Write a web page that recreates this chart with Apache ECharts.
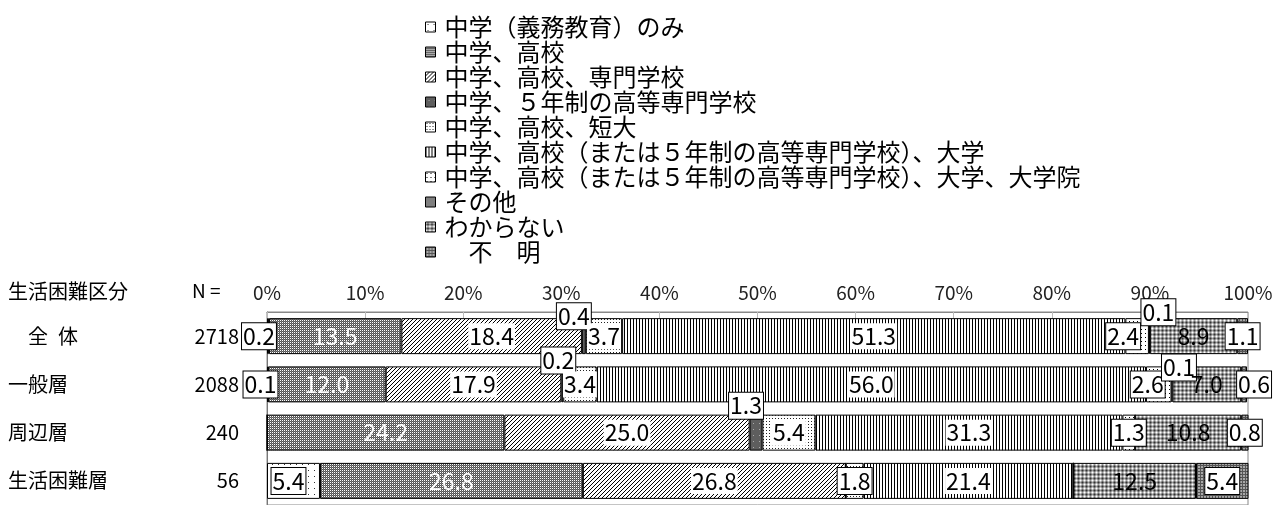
<!DOCTYPE html>
<html>
<head>
<meta charset="utf-8">
<script src="https://cdn.jsdelivr.net/npm/echarts@6/dist/echarts.min.js"></script>
<style>
html,body{margin:0;padding:0;background:#fff;}
#chart{width:1285px;height:505px;}
</style>
</head>
<body>
<div id="chart"></div>
<script>
// ---- data ----
const categories = ['\u3000全\u2002体', '一般層', '周辺層', '生活困難層'];
const nValues = ['2718', '2088', '240', '56'];
const xTicks = [0, 10, 20, 30, 40, 50, 60, 70, 80, 90, 100];
const seriesNames = [
  '中学（義務教育）のみ',
  '中学、高校',
  '中学、高校、専門学校',
  '中学、５年制の高等専門学校',
  '中学、高校、短大',
  '中学、高校（または５年制の高等専門学校）、大学',
  '中学、高校（または５年制の高等専門学校）、大学、大学院',
  'その他',
  'わからない',
  '\u3000不\u3000明'
];
const gimuOnly   = [0.2, 0.1, 0.0, 5.4];
const koko       = [13.5, 12.0, 24.2, 26.8];
const senmon     = [18.4, 17.9, 25.0, 26.8];
const kosen      = [0.4, 0.2, 1.3, 0.0];
const tandai     = [3.7, 3.4, 5.4, 1.8];
const daigaku    = [51.3, 56.0, 31.3, 21.4];
const daigakuin  = [2.4, 2.6, 1.3, 0.0];
const sonota     = [0.1, 0.1, 0.0, 0.0];
const wakaranai  = [8.9, 7.0, 10.8, 12.5];
const fumei      = [1.1, 0.6, 0.8, 5.4];
const seriesValues = [gimuOnly, koko, senmon, kosen, tandai, daigaku, daigakuin, sonota, wakaranai, fumei];

// ---- patterns (style) ----
function tile(w, h, bg, pixels) {
  const c = document.createElement('canvas');
  c.width = w; c.height = h;
  const g = c.getContext('2d');
  g.fillStyle = bg; g.fillRect(0, 0, w, h);
  pixels.forEach(p => { g.fillStyle = p[2]; g.fillRect(p[0], p[1], 1, 1); });
  return { image: c, repeat: 'repeat' };
}
const D = '#000', W = '#fff';
const patterns = [
  tile(6, 6, W, [[2, 2, '#333']]),
  tile(2, 2, '#555', [[0, 0, W], [1, 1, '#777']]),
  tile(4, 4, W, [[3, 0, D], [2, 1, D], [1, 2, D], [0, 3, D]]),
  tile(6, 6, '#5e5e5e', [[3, 3, '#aaa']]),
  tile(3, 3, W, [[1, 1, '#222']]),
  tile(3, 1, W, [[0, 0, D]]),
  tile(4, 4, W, [[1, 1, D]]),
  '#7f7f7f',
  tile(4, 4, '#999', [[0, 0, W], [1, 0, '#ccc'], [3, 0, '#ccc'], [0, 1, '#ccc'], [0, 3, '#ccc'],
                      [2, 2, '#333'], [1, 2, '#666'], [3, 2, '#666'], [2, 1, '#666'], [2, 3, '#666']]),
  tile(3, 3, '#a8a8a8', [[0, 0, '#555'], [1, 0, '#555'], [2, 0, '#555'], [0, 1, '#555'], [0, 2, '#555']])
];

// label styles per series: 'box' white box w/ border, 'bg' white background, 'white' white text, 'plain'
const labelKinds = ['box', 'white', 'bg', 'box', 'bg', 'bg', 'box', 'box', 'plain', 'box'];
const nudges = {
  '0-0': [-9, 0], '0-1': [-7, 0], '0-3': [-5, 0],
  '3-0': [-10, -20], '3-1': [-4, -24], '3-2': [-10, -27],
  '6-0': [-14, 0], '6-1': [-11, 0],
  '7-0': [9, -24], '7-1': [7, -17],
  '9-1': [10, 0]
};
const FONT = "'Noto Sans CJK JP', 'Noto Sans', sans-serif";

function labelStyle(kind, v) {
  const base = { show: v > 0, position: 'inside', fontSize: 23, lineHeight: 25, color: '#000', fontFamily: FONT,
    formatter: p => p.value.toFixed(1) };
  if (kind === 'box' || (kind === 'bg' && v < 2)) {
    return Object.assign(base, { backgroundColor: '#fff', borderColor: '#000', borderWidth: 1, padding: [1, 1, 0, 1] });
  }
  if (kind === 'bg') return Object.assign(base, { backgroundColor: '#fff', padding: [1, 1, 0, 1] });
  if (kind === 'white') return Object.assign(base, { color: '#fff' });
  return base;
}

const series = seriesNames.map((name, si) => ({
  name: name,
  type: 'bar',
  stack: 'total',
  barWidth: 36,
  itemStyle: { color: patterns[si], borderColor: '#000', borderWidth: 1 },
  data: seriesValues[si].map((v, ci) => {
    const lab = labelStyle(labelKinds[si], v);
    const n = nudges[si + '-' + ci];
    if (n) lab.offset = n;
    return { value: v, label: lab };
  }),
  emphasis: { disabled: true }
}));

const chart = echarts.init(document.getElementById('chart'), null, { renderer: 'canvas' });
chart.setOption({
  animation: false,
  backgroundColor: '#fff',
  textStyle: { fontFamily: FONT },
  legend: {
    orient: 'vertical',
    left: 420,
    top: 10,
    icon: 'rect',
    itemWidth: 10,
    itemHeight: 10,
    itemGap: 1,
    selectedMode: false,
    itemStyle: { borderColor: '#000', borderWidth: 1 },
    textStyle: { fontSize: 24, lineHeight: 24, color: '#000', fontFamily: FONT, padding: [0, 0, 0, 4] },
    data: seriesNames
  },
  graphic: [
    { type: 'text', left: 8, top: 281, style: { text: '生活困難区分', font: "20px " + FONT, fill: '#000' } },
    { type: 'text', left: 192, top: 281, style: { text: 'N =', font: "19px " + FONT, fill: '#000' } }
  ],
  grid: { left: 267, right: 37, top: 312, height: 201, show: true, borderColor: '#888', borderWidth: 1 },
  xAxis: {
    type: 'value', position: 'top', min: xTicks[0], max: xTicks[xTicks.length - 1], interval: xTicks[1] - xTicks[0],
    axisLabel: { formatter: '{value}%', fontSize: 19, color: '#222', margin: 10, fontFamily: FONT },
    axisLine: { show: true, lineStyle: { color: '#888' } },
    axisTick: { show: true, inside: true, length: 7, lineStyle: { color: '#bbb' } },
    splitLine: { show: false }
  },
  yAxis: [
    {
      type: 'category', inverse: true, data: categories,
      axisLine: { show: true, lineStyle: { color: '#777' } },
      axisTick: { show: false },
      axisLabel: { align: 'left', margin: 259, fontSize: 20, color: '#000', fontFamily: FONT }
    },
    {
      type: 'category', inverse: true, position: 'left', data: nValues,
      axisLine: { show: false }, axisTick: { show: false },
      axisLabel: { margin: 28, fontSize: 20, color: '#000', fontFamily: FONT }
    }
  ],
  series: series
});
</script>
</body>
</html>
